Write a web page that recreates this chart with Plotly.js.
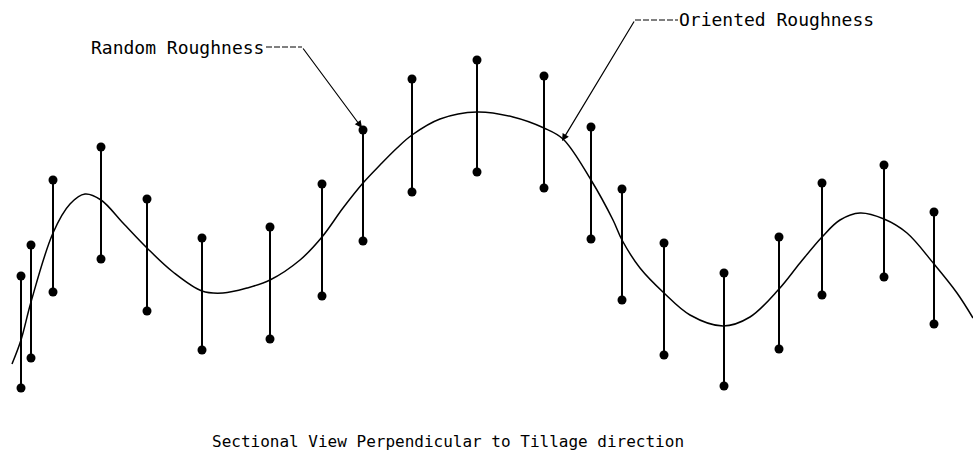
<!DOCTYPE html>
<html>
<head>
<meta charset="utf-8">
<script src="https://cdn.plot.ly/plotly-3.0.1.min.js"></script>
<style>
  html, body { margin: 0; padding: 0; background: #ffffff; }
  #chart { width: 973px; height: 452px; }
</style>
</head>
<body>
<div id="chart"></div>
<script>
// Horizontal position along the section (drawing units)
const sampleX = [21, 31, 53, 101, 147, 202, 270, 322, 363, 412, 477, 544, 591, 622, 664, 724, 779, 822, 884, 934];
// Random roughness: upper and lower elevation of each sample
const sampleTop    = [176, 207, 272, 305, 253, 214, 225, 268, 322, 373, 392, 376, 325, 263, 209, 179, 215, 269, 287, 240];
const sampleBottom = [ 64,  94, 160, 193, 141, 102, 113, 156, 211, 260, 280, 264, 213, 152,  97,  66, 103, 157, 175, 128];

// Oriented roughness: smooth surface profile
const profileX = [12, 21, 31, 53, 70, 85, 101, 123, 147, 173, 202, 223, 247, 270, 300, 322, 343, 363, 380, 397, 412, 440, 477, 513, 544, 563, 591, 613, 622, 640, 664, 690, 723, 750, 779, 800, 822, 840, 860, 884, 907, 934, 957, 973];
const profileY = [88, 112, 150, 219, 248, 258, 252, 229, 204, 180, 161, 159, 164, 172, 192, 215, 244, 269, 287, 304, 317, 333, 340, 335, 324, 313, 272, 232, 212, 184, 159, 137, 126, 135, 163, 189, 215, 232, 239, 233, 219, 188, 159, 134];

// Labels
const labelRandom = "Random Roughness";
const labelOriented = "Oriented Roughness";
const captionText = "Sectional View Perpendicular to Tillage direction";

// Build segment trace (vertical bars with dots at both ends)
const segX = [], segY = [];
for (let i = 0; i < sampleX.length; i++) {
  segX.push(sampleX[i], sampleX[i], null);
  segY.push(sampleTop[i], sampleBottom[i], null);
}

const traces = [
  {
    x: profileX, y: profileY,
    type: 'scatter', mode: 'lines',
    line: { color: '#000000', width: 1.5, shape: 'spline', smoothing: 1 },
    hoverinfo: 'skip', showlegend: false
  },
  {
    x: segX, y: segY,
    type: 'scatter', mode: 'lines+markers',
    line: { color: '#000000', width: 2 },
    marker: { color: '#000000', size: 9 },
    hoverinfo: 'skip', showlegend: false, cliponaxis: false
  }
];

const font = "'DejaVu Sans Mono', 'Liberation Mono', monospace";

const layout = {
  width: 973, height: 452,
  margin: { l: 0, r: 0, t: 0, b: 0 },
  paper_bgcolor: '#ffffff', plot_bgcolor: '#ffffff',
  showlegend: false,
  xaxis: { range: [0, 973], visible: false, fixedrange: true },
  yaxis: { range: [0, 452], visible: false, fixedrange: true },
  shapes: [
    { type: 'line', xref: 'x', yref: 'y', x0: 266, y0: 405, x1: 302, y1: 405,
      line: { color: '#000000', width: 1, dash: '6px,2px' } },
    { type: 'line', xref: 'x', yref: 'y', x0: 635, y0: 432, x1: 678, y1: 432,
      line: { color: '#000000', width: 1, dash: '6px,2px' } }
  ],
  annotations: [
    { x: 266, y: 405, xref: 'x', yref: 'y', text: labelRandom, showarrow: false,
      xanchor: 'right', yanchor: 'middle', font: { family: font, size: 18, color: '#000000' } },
    { x: 677, y: 433, xref: 'x', yref: 'y', text: labelOriented, showarrow: false,
      xanchor: 'left', yanchor: 'middle', font: { family: font, size: 18, color: '#000000' } },
    { x: 362, y: 324, xref: 'x', yref: 'y', ax: 302, ay: 405, axref: 'x', ayref: 'y',
      text: '', showarrow: true, arrowhead: 2, arrowsize: 1.2, arrowwidth: 1.2, arrowcolor: '#000000' },
    { x: 562, y: 311, xref: 'x', yref: 'y', ax: 635, ay: 432, axref: 'x', ayref: 'y',
      text: '', showarrow: true, arrowhead: 2, arrowsize: 1.2, arrowwidth: 1.2, arrowcolor: '#000000' },
    { x: 448, y: 11, xref: 'x', yref: 'y', text: captionText, showarrow: false,
      xanchor: 'center', yanchor: 'middle', font: { family: font, size: 16, color: '#000000' } }
  ]
};

Plotly.newPlot('chart', traces, layout, { displayModeBar: false, staticPlot: true });
</script>
</body>
</html>
